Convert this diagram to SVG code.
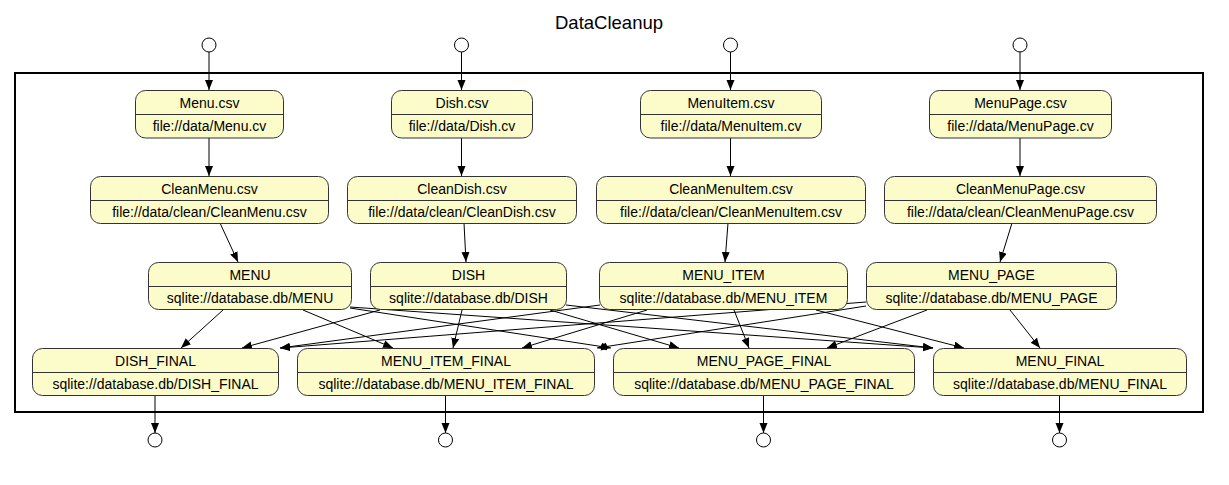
<svg xmlns="http://www.w3.org/2000/svg" width="1229" height="485" viewBox="0 0 1229 485">
<style>
text{font-family:"Liberation Sans",Arial,sans-serif;fill:#000;text-anchor:middle}
.t{font-size:18.5px}
.n{font-size:14px}
.box{fill:#fcfcca;stroke:#333;stroke-width:1}
.div{stroke:#333;stroke-width:1}
.ep{fill:#fff;stroke:#000;stroke-width:1}
.e{stroke:#000;stroke-width:1;fill:none;marker-end:url(#ah)}
.cl{fill:none;stroke:#000;stroke-width:2}
</style>
<defs>
<marker id="ah" markerUnits="userSpaceOnUse" markerWidth="11" markerHeight="9" refX="10" refY="4" orient="auto">
<path d="M0,0 L10,4 L0,8 z" fill="#000"/>
</marker>
</defs>
<rect width="1229" height="485" fill="#fff"/>
<text class="t" x="609" y="29">DataCleanup</text>
<rect class="cl" x="15" y="73" width="1188" height="339"/>

<g id="start1"><circle class="ep" cx="209" cy="45" r="7"/></g>
<g id="start2"><circle class="ep" cx="461.5" cy="45" r="7"/></g>
<g id="start3"><circle class="ep" cx="730.5" cy="45" r="7"/></g>
<g id="start4"><circle class="ep" cx="1020" cy="45" r="7"/></g>
<g id="end1"><circle class="ep" cx="155" cy="440" r="7"/></g>
<g id="end2"><circle class="ep" cx="445.5" cy="440" r="7"/></g>
<g id="end3"><circle class="ep" cx="763.5" cy="440" r="7"/></g>
<g id="end4"><circle class="ep" cx="1059.5" cy="440" r="7"/></g>

<g id="connectors">
<line class="e" x1="209" y1="52" x2="209" y2="90"/>
<line class="e" x1="461.5" y1="52" x2="461.5" y2="90"/>
<line class="e" x1="730.5" y1="52" x2="730.5" y2="90"/>
<line class="e" x1="1020" y1="52" x2="1020" y2="90"/>
<line class="e" x1="209" y1="138" x2="209" y2="176"/>
<line class="e" x1="461.5" y1="138" x2="461.5" y2="176"/>
<line class="e" x1="730.5" y1="138" x2="730.5" y2="176"/>
<line class="e" x1="1020" y1="138" x2="1020" y2="176"/>
<line class="e" x1="220" y1="223" x2="238" y2="262"/>
<line class="e" x1="464" y1="223" x2="466" y2="262"/>
<line class="e" x1="728" y1="223" x2="725" y2="262"/>
<line class="e" x1="1012" y1="223" x2="1000" y2="262"/>
<line class="e" x1="223" y1="310" x2="181" y2="348"/>
<line class="e" x1="303" y1="310" x2="393" y2="348"/>
<line class="e" x1="350" y1="308" x2="611" y2="348"/>
<line class="e" x1="350" y1="307" x2="933" y2="348"/>
<line class="e" x1="380" y1="310" x2="242" y2="348"/>
<line class="e" x1="462" y1="310" x2="453" y2="348"/>
<line class="e" x1="550" y1="310" x2="679" y2="348"/>
<line class="e" x1="566" y1="305" x2="933" y2="348"/>
<line class="e" x1="600" y1="305" x2="280" y2="348"/>
<line class="e" x1="647" y1="310" x2="522" y2="348"/>
<line class="e" x1="734" y1="310" x2="749" y2="348"/>
<line class="e" x1="816" y1="310" x2="964" y2="348"/>
<line class="e" x1="866" y1="302" x2="280" y2="348"/>
<line class="e" x1="866" y1="306" x2="597" y2="348"/>
<line class="e" x1="927" y1="310" x2="827" y2="348"/>
<line class="e" x1="1010" y1="310" x2="1040" y2="348"/>
<line class="e" x1="155" y1="395.5" x2="155" y2="433"/>
<line class="e" x1="445.5" y1="395.5" x2="445.5" y2="433"/>
<line class="e" x1="763.5" y1="395.5" x2="763.5" y2="433"/>
<line class="e" x1="1059.5" y1="395.5" x2="1059.5" y2="433"/>
</g>

<g id="menu_csv"><rect class="box" x="135.5" y="90.5" width="148" height="47.5" rx="10"/><line class="div" x1="135.5" y1="114.5" x2="283.5" y2="114.5"/><text class="n" x="209.5" y="107.5">Menu.csv</text><text class="n" x="209.5" y="131">file://data/Menu.cv</text></g>
<g id="dish_csv"><rect class="box" x="391.5" y="90.5" width="141" height="47.5" rx="10"/><line class="div" x1="391.5" y1="114.5" x2="532.5" y2="114.5"/><text class="n" x="462" y="107.5">Dish.csv</text><text class="n" x="462" y="131">file://data/Dish.cv</text></g>
<g id="menuitem_csv"><rect class="box" x="640.5" y="90.5" width="181" height="47.5" rx="10"/><line class="div" x1="640.5" y1="114.5" x2="821.5" y2="114.5"/><text class="n" x="731" y="107.5">MenuItem.csv</text><text class="n" x="731" y="131">file://data/MenuItem.cv</text></g>
<g id="menupage_csv"><rect class="box" x="929.5" y="90.5" width="182" height="47.5" rx="10"/><line class="div" x1="929.5" y1="114.5" x2="1111.5" y2="114.5"/><text class="n" x="1020.5" y="107.5">MenuPage.csv</text><text class="n" x="1020.5" y="131">file://data/MenuPage.cv</text></g>

<g id="cleanmenu_csv"><rect class="box" x="90.5" y="176.5" width="238" height="47" rx="10"/><line class="div" x1="90.5" y1="200.5" x2="328.5" y2="200.5"/><text class="n" x="209.5" y="193.5">CleanMenu.csv</text><text class="n" x="209.5" y="217">file://data/clean/CleanMenu.csv</text></g>
<g id="cleandish_csv"><rect class="box" x="347.5" y="176.5" width="229" height="47" rx="10"/><line class="div" x1="347.5" y1="200.5" x2="576.5" y2="200.5"/><text class="n" x="462" y="193.5">CleanDish.csv</text><text class="n" x="462" y="217">file://data/clean/CleanDish.csv</text></g>
<g id="cleanmenuitem_csv"><rect class="box" x="596.5" y="176.5" width="269" height="47" rx="10"/><line class="div" x1="596.5" y1="200.5" x2="865.5" y2="200.5"/><text class="n" x="731" y="193.5">CleanMenuItem.csv</text><text class="n" x="731" y="217">file://data/clean/CleanMenuItem.csv</text></g>
<g id="cleanmenupage_csv"><rect class="box" x="884.5" y="176.5" width="272" height="47" rx="10"/><line class="div" x1="884.5" y1="200.5" x2="1156.5" y2="200.5"/><text class="n" x="1020.5" y="193.5">CleanMenuPage.csv</text><text class="n" x="1020.5" y="217">file://data/clean/CleanMenuPage.csv</text></g>

<g id="menu"><rect class="box" x="148.5" y="262.5" width="203" height="47" rx="10"/><line class="div" x1="148.5" y1="286.5" x2="351.5" y2="286.5"/><text class="n" x="250" y="279.5">MENU</text><text class="n" x="250" y="303">sqlite://database.db/MENU</text></g>
<g id="dish"><rect class="box" x="370.5" y="262.5" width="196" height="47" rx="10"/><line class="div" x1="370.5" y1="286.5" x2="566.5" y2="286.5"/><text class="n" x="468.5" y="279.5">DISH</text><text class="n" x="468.5" y="303">sqlite://database.db/DISH</text></g>
<g id="menu_item"><rect class="box" x="599.5" y="262.5" width="248" height="47" rx="10"/><line class="div" x1="599.5" y1="286.5" x2="847.5" y2="286.5"/><text class="n" x="723.5" y="279.5">MENU_ITEM</text><text class="n" x="723.5" y="303">sqlite://database.db/MENU_ITEM</text></g>
<g id="menu_page"><rect class="box" x="866.5" y="262.5" width="250" height="47" rx="10"/><line class="div" x1="866.5" y1="286.5" x2="1116.5" y2="286.5"/><text class="n" x="991.5" y="279.5">MENU_PAGE</text><text class="n" x="991.5" y="303">sqlite://database.db/MENU_PAGE</text></g>

<g id="dish_final"><rect class="box" x="32.5" y="348.5" width="246" height="47" rx="10"/><line class="div" x1="32.5" y1="372.5" x2="278.5" y2="372.5"/><text class="n" x="155.5" y="365.5">DISH_FINAL</text><text class="n" x="155.5" y="389">sqlite://database.db/DISH_FINAL</text></g>
<g id="menu_item_final"><rect class="box" x="297.5" y="348.5" width="297" height="47" rx="10"/><line class="div" x1="297.5" y1="372.5" x2="594.5" y2="372.5"/><text class="n" x="446" y="365.5">MENU_ITEM_FINAL</text><text class="n" x="446" y="389">sqlite://database.db/MENU_ITEM_FINAL</text></g>
<g id="menu_page_final"><rect class="box" x="613.5" y="348.5" width="301" height="47" rx="10"/><line class="div" x1="613.5" y1="372.5" x2="914.5" y2="372.5"/><text class="n" x="764" y="365.5">MENU_PAGE_FINAL</text><text class="n" x="764" y="389">sqlite://database.db/MENU_PAGE_FINAL</text></g>
<g id="menu_final"><rect class="box" x="933.5" y="348.5" width="253" height="47" rx="10"/><line class="div" x1="933.5" y1="372.5" x2="1186.5" y2="372.5"/><text class="n" x="1060" y="365.5">MENU_FINAL</text><text class="n" x="1060" y="389">sqlite://database.db/MENU_FINAL</text></g>
</svg>
